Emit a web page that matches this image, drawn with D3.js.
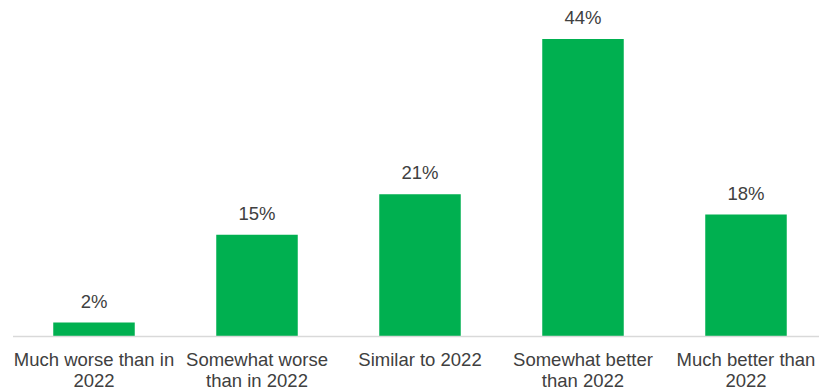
<!DOCTYPE html>
<html>
<head>
<meta charset="utf-8">
<script src="https://cdn.jsdelivr.net/npm/d3@7"></script>
<style>
  html, body { margin: 0; padding: 0; background: #fff; }
  svg { display: block; }
  text { font-family: "Liberation Sans", Arial, sans-serif; fill: #404040; }
</style>
</head>
<body>
<svg id="chart" width="819" height="389"></svg>
<script>
// Outlook compared with 2022 (share of respondents, %)
const categories = [
  "Much worse than in 2022",
  "Somewhat worse than in 2022",
  "Similar to 2022",
  "Somewhat better than 2022",
  "Much better than 2022"
];
const categoryLines = [
  ["Much worse than in", "2022"],
  ["Somewhat worse", "than in 2022"],
  ["Similar to 2022"],
  ["Somewhat better", "than 2022"],
  ["Much better than", "2022"]
];
const values = [2, 15, 21, 44, 18];

const svg = d3.select("#chart");
const baseY = 336;
const fontSize = 18.5;

const x = d3.scaleBand()
  .domain(categories)
  .range([12.5, 827.5])
  .paddingInner(0.5)
  .paddingOuter(0.25);

const y = d3.scaleLinear()
  .domain([0, 44])
  .range([baseY, 39]);

// bars
svg.append("g").selectAll("rect")
  .data(values)
  .join("rect")
  .attr("x", (d, i) => x(categories[i]))
  .attr("width", x.bandwidth())
  .attr("y", d => y(d))
  .attr("height", d => y(0) - y(d))
  .attr("fill", "#00B050");

// category axis line
svg.append("line")
  .attr("x1", 13).attr("x2", 819)
  .attr("y1", baseY + 0.5).attr("y2", baseY + 0.5)
  .attr("stroke", "#d9d9d9")
  .attr("stroke-width", 1.3);

// value labels
svg.append("g").selectAll("text")
  .data(values)
  .join("text")
  .attr("x", (d, i) => x(categories[i]) + x.bandwidth() / 2)
  .attr("y", d => y(d) - 15)
  .attr("text-anchor", "middle")
  .style("font-size", fontSize + "px")
  .text(d => d + "%");

// category labels, wrapped over two lines
const labels = svg.append("g").selectAll("text")
  .data(categories)
  .join("text")
  .attr("x", d => x(d) + x.bandwidth() / 2)
  .attr("y", 366)
  .attr("text-anchor", "middle")
  .style("font-size", fontSize + "px");

labels.each(function(d, i) {
  const t = d3.select(this);
  categoryLines[i].forEach((line, j) => {
    t.append("tspan")
      .attr("x", x(d) + x.bandwidth() / 2)
      .attr("dy", j === 0 ? 0 : 20.5)
      .text(line);
  });
});
</script>
</body>
</html>
